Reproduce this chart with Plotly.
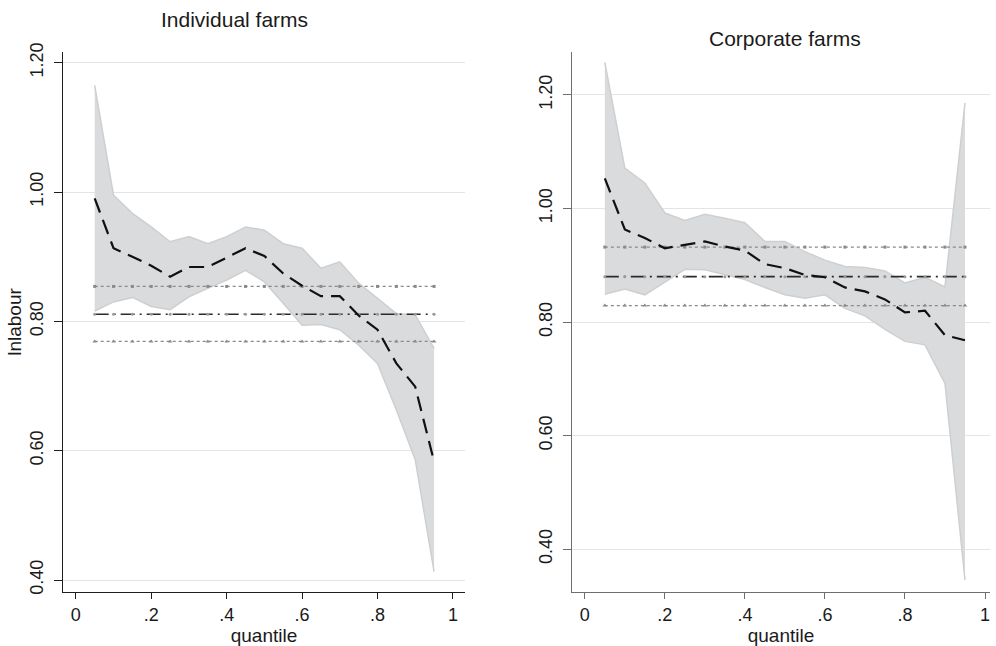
import plotly.graph_objects as go

quantiles = [0.05, 0.10, 0.15, 0.20, 0.25, 0.30, 0.35, 0.40, 0.45, 0.50,
             0.55, 0.60, 0.65, 0.70, 0.75, 0.80, 0.85, 0.90, 0.95]

# Individual farms
ind_coef = [0.990, 0.913, 0.900, 0.886, 0.869, 0.884, 0.884, 0.899, 0.913, 0.901,
            0.874, 0.855, 0.839, 0.839, 0.809, 0.787, 0.735, 0.699, 0.583]
ind_upper = [1.165, 0.995, 0.967, 0.946, 0.923, 0.931, 0.920, 0.931, 0.946, 0.941,
             0.920, 0.913, 0.882, 0.892, 0.859, 0.836, 0.812, 0.810, 0.758]
ind_lower = [0.816, 0.830, 0.837, 0.823, 0.818, 0.838, 0.851, 0.864, 0.879, 0.861,
             0.828, 0.794, 0.795, 0.787, 0.763, 0.735, 0.663, 0.586, 0.413]
ind_ols = 0.811
ind_ols_hi = 0.854
ind_ols_lo = 0.769

# Corporate farms
cor_coef = [1.053, 0.963, 0.948, 0.930, 0.936, 0.942, 0.933, 0.926, 0.902, 0.895,
            0.883, 0.879, 0.861, 0.854, 0.840, 0.817, 0.820, 0.777, 0.768]
cor_upper = [1.257, 1.071, 1.045, 0.992, 0.979, 0.990, 0.983, 0.975, 0.942, 0.942,
             0.924, 0.909, 0.898, 0.896, 0.890, 0.869, 0.879, 0.862, 1.186]
cor_lower = [0.849, 0.858, 0.848, 0.871, 0.893, 0.892, 0.883, 0.875, 0.861, 0.848,
             0.842, 0.848, 0.824, 0.811, 0.787, 0.766, 0.760, 0.692, 0.346]
cor_ols = 0.880
cor_ols_hi = 0.932
cor_ols_lo = 0.829

titles = ["Individual farms", "Corporate farms"]
x_tickvals = [0, 0.2, 0.4, 0.6, 0.8, 1]
x_ticktext = ["0", ".2", ".4", ".6", ".8", "1"]
y_tickvals = [0.4, 0.6, 0.8, 1.0, 1.2]
y_ticktext = ["0.40", "0.60", "0.80", "1.00", "1.20"]

FONT = "Liberation Sans, Arial, Helvetica, sans-serif"
BAND_FILL = "rgb(218,219,221)"
BAND_EDGE = "rgb(206,207,209)"

fig = go.Figure()


def add_panel(xa, ya, coef, upper, lower, ols, hi, lo):
    fig.add_trace(go.Scatter(x=quantiles, y=lower, mode="lines",
                             line=dict(color=BAND_EDGE, width=1.5),
                             xaxis=xa, yaxis=ya, showlegend=False, hoverinfo="skip"))
    fig.add_trace(go.Scatter(x=quantiles, y=upper, mode="lines", fill="tonexty",
                             fillcolor=BAND_FILL,
                             line=dict(color=BAND_EDGE, width=1.5),
                             xaxis=xa, yaxis=ya, showlegend=False, hoverinfo="skip"))
    n = len(quantiles)
    fig.add_trace(go.Scatter(x=quantiles, y=[hi] * n, mode="lines+markers",
                             line=dict(color="#8a8a8a", width=1.2, dash="dot"),
                             marker=dict(symbol="square", size=3, color="#8a8a8a"),
                             xaxis=xa, yaxis=ya, showlegend=False))
    fig.add_trace(go.Scatter(x=quantiles, y=[ols] * n, mode="lines+markers",
                             line=dict(color="#2a2a2a", width=1.6, dash="14px,5px,2px,5px"),
                             marker=dict(symbol="circle", size=3, color="#9a9a9a"),
                             xaxis=xa, yaxis=ya, showlegend=False))
    fig.add_trace(go.Scatter(x=quantiles, y=[lo] * n, mode="lines+markers",
                             line=dict(color="#8a8a8a", width=1.2, dash="dot"),
                             marker=dict(symbol="triangle-up", size=4, color="#8a8a8a"),
                             xaxis=xa, yaxis=ya, showlegend=False))
    fig.add_trace(go.Scatter(x=quantiles, y=coef, mode="lines",
                             line=dict(color="#111111", width=2.2, dash="15px,8px"),
                             xaxis=xa, yaxis=ya, showlegend=False))


add_panel("x", "y", ind_coef, ind_upper, ind_lower, ind_ols, ind_ols_hi, ind_ols_lo)
add_panel("x2", "y2", cor_coef, cor_upper, cor_lower, cor_ols, cor_ols_hi, cor_ols_lo)

W, H = 996, 646
ydom = [1 - 592 / H, 1 - 52 / H]


def xaxis(dom, rng, color):
    return dict(domain=dom, range=rng, tickvals=x_tickvals, ticktext=x_ticktext,
                showgrid=False, zeroline=False, showline=True, linecolor=color,
                linewidth=1.3, ticks="outside", ticklen=6, tickcolor=color, tickwidth=1.3,
                tickfont=dict(family=FONT, size=18, color="#1a1a1a"),
                title=dict(text="quantile", font=dict(family=FONT, size=19, color="#1a1a1a"),
                           standoff=2),
                automargin=False)


def yaxis(anchor, rng, color, title):
    d = dict(domain=ydom, range=rng, anchor=anchor, tickvals=y_tickvals, ticktext=y_ticktext,
             showgrid=True, gridcolor="#e4e4e4", gridwidth=1.3, zeroline=False,
             showline=True, linecolor=color, linewidth=1.3, ticks="outside",
             ticklen=8, tickcolor=color, tickwidth=1.3, tickangle=-90,
             ticklabelstandoff=4,
             tickfont=dict(family=FONT, size=18, color="#1a1a1a"), automargin=False)
    if title:
        d["title"] = dict(text=title, font=dict(family=FONT, size=19, color="#1a1a1a"),
                          standoff=0)
    return d


fig.update_layout(
    width=W, height=H,
    margin=dict(l=0, r=0, t=0, b=0),
    paper_bgcolor="white", plot_bgcolor="white",
    showlegend=False,
    xaxis=dict(anchor="y", **xaxis([63 / W, 465 / W], [-0.034, 1.032], "#1e1e1e")),
    yaxis=yaxis("x", [0.38144, 1.2165], "#1e1e1e", "lnlabour"),
    xaxis2=dict(anchor="y2", **xaxis([572 / W, 990 / W], [-0.032, 1.0125], "#6e6e6e")),
    yaxis2=yaxis("x2", [0.3248, 1.2755], "#6e6e6e", None),
    annotations=[
        dict(text=titles[0], x=234 / W, y=1 - 19 / H, xref="paper", yref="paper",
             xanchor="center", yanchor="middle", showarrow=False,
             font=dict(family=FONT, size=21, color="#1a1a1a")),
        dict(text=titles[1], x=785 / W, y=1 - 38 / H, xref="paper", yref="paper",
             xanchor="center", yanchor="middle", showarrow=False,
             font=dict(family=FONT, size=21, color="#1a1a1a")),
    ],
)

fig.write_html("out.html")
